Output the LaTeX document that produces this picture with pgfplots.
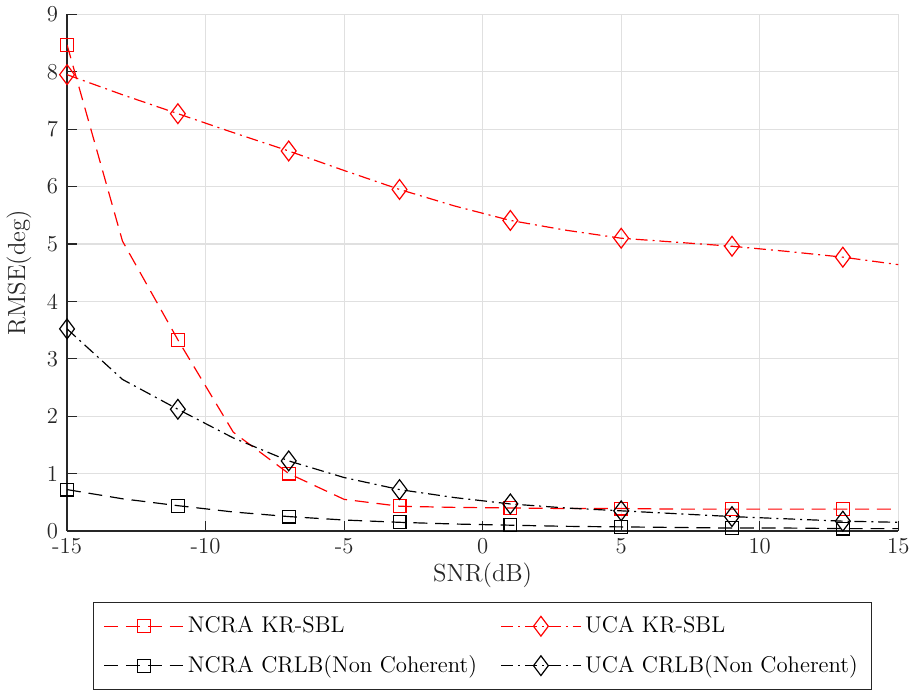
\documentclass[border=0pt]{standalone}
\usepackage{pgfplots}
\pgfplotsset{compat=1.18}
\definecolor{axgray}{gray}{0.15}
\definecolor{gridgray}{gray}{0.88}
\begin{document}
\begin{tikzpicture}
\begin{axis}[
  scale only axis,
  width=420pt, height=261pt,
  xmin=-15, xmax=15, ymin=0, ymax=9,
  xtick={-15,-10,...,15}, ytick={0,1,...,9},
  /pgf/number format/assume math mode=true,
  axis x line*=bottom, axis y line*=left,
  axis line style={draw=axgray, line width=0.6pt, -},
  tick style={axgray, line width=0.6pt}, tick align=inside,
  major tick length=5pt,
  grid=major, grid style={gridgray, line width=0.6pt},
  ticklabel style={font=\fontsize{11.5}{13.8}\selectfont, text=axgray},
  yticklabel style={xshift=-1pt},
  label style={font=\fontsize{12.5}{15}\selectfont, text=axgray},
  xlabel={SNR(dB)}, ylabel={RMSE(deg)},
  xlabel style={yshift=2pt},
  ylabel style={yshift=1pt},
  legend columns=2,
  legend cell align=left,
  legend style={at={(0.5,-0.138)}, anchor=north, draw=axgray, line width=0.6pt,
    font=\fontsize{11.5}{13.8}\selectfont, text=black,
    /tikz/every even column/.append style={column sep=10pt},
    row sep=6pt, inner sep=5pt},
  legend image code/.code={\draw[mark repeat=2,mark phase=2] plot coordinates {(0pt,0pt) (20pt,0pt) (40pt,0pt)};},
  every axis plot/.append style={line width=0.6pt, mark repeat=2, mark options={solid}},
]
\addplot[red, dash pattern=on 7pt off 4pt, mark=square, mark size=3.25pt] coordinates {
(-15,8.47) (-13,5.05) (-11,3.33) (-9,1.72) (-7,1.00) (-5,0.55) (-3,0.43) (-1,0.41)
(1,0.40) (3,0.39) (5,0.39) (7,0.38) (9,0.38) (11,0.38) (13,0.38) (15,0.38)};
\addlegendentry{NCRA KR-SBL}
\addplot[red, dash pattern=on 6pt off 2.5pt on 1pt off 2.5pt, mark=diamond, mark size=5pt] coordinates {
(-15,7.95) (-13,7.60) (-11,7.27) (-9,6.94) (-7,6.62) (-5,6.28) (-3,5.95) (-1,5.66)
(1,5.41) (3,5.24) (5,5.10) (7,5.03) (9,4.96) (11,4.87) (13,4.77) (15,4.64)};
\addlegendentry{UCA KR-SBL}
\addplot[black, dash pattern=on 7pt off 4pt, mark=square, mark size=3.25pt] coordinates {
(-15,0.72) (-13,0.56) (-11,0.44) (-9,0.33) (-7,0.25) (-5,0.19) (-3,0.15) (-1,0.12)
(1,0.10) (3,0.08) (5,0.07) (7,0.06) (9,0.05) (11,0.05) (13,0.04) (15,0.04)};
\addlegendentry{NCRA CRLB(Non Coherent)}
\addplot[black, dash pattern=on 6pt off 2.5pt on 1pt off 2.5pt, mark=diamond, mark size=5pt] coordinates {
(-15,3.52) (-13,2.64) (-11,2.12) (-9,1.62) (-7,1.22) (-5,0.93) (-3,0.72) (-1,0.58)
(1,0.47) (3,0.40) (5,0.35) (7,0.30) (9,0.25) (11,0.21) (13,0.17) (15,0.15)};
\addlegendentry{UCA CRLB(Non Coherent)}
\end{axis}
\end{tikzpicture}
\end{document}
